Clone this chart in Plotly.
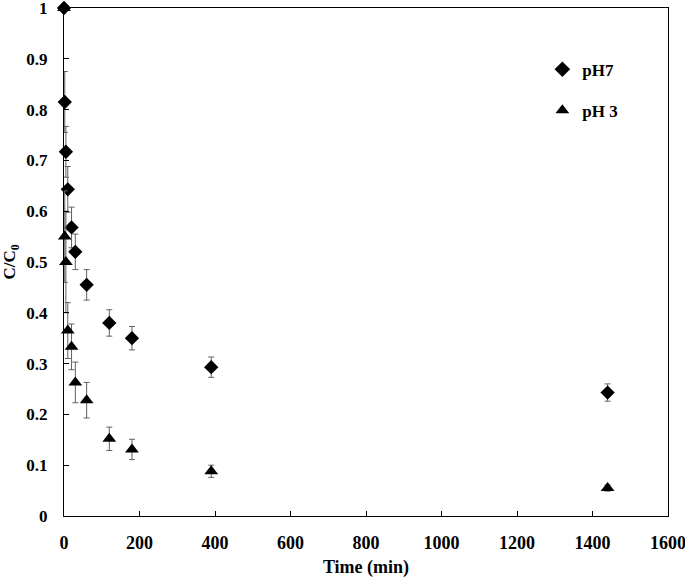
import plotly.graph_objects as go

time_min = [0, 2, 5, 10, 20, 30, 60, 120, 180, 390, 1440]
ph7 = [1.0, 0.815, 0.717, 0.643, 0.568, 0.52, 0.455, 0.38, 0.35, 0.293, 0.243]
ph7_err = [0.0, 0.06, 0.05, 0.045, 0.04, 0.035, 0.03, 0.026, 0.023, 0.02, 0.017]
ph3 = [1.0, 0.55, 0.50, 0.365, 0.333, 0.263, 0.228, 0.152, 0.131, 0.088, 0.055]
ph3_err = [0.0, 0.09, 0.1, 0.055, 0.045, 0.04, 0.035, 0.023, 0.02, 0.012, 0.006]

x_ticks = [0, 200, 400, 600, 800, 1000, 1200, 1400, 1600]
y_ticks = [0, 0.1, 0.2, 0.3, 0.4, 0.5, 0.6, 0.7, 0.8, 0.9, 1]
y_tick_labels = ["0", "0.1", "0.2", "0.3", "0.4", "0.5", "0.6", "0.7", "0.8", "0.9", "1"]

FONT = "Liberation Serif"
ERR_COLOR = "#606060"

fig = go.Figure()
fig.add_trace(go.Scatter(
    x=time_min, y=ph7, mode="markers", name="<b>pH7</b>", legendgroup="a",
    marker=dict(symbol="diamond", size=11, color="black"), cliponaxis=False,
    error_y=dict(type="data", array=ph7_err, color=ERR_COLOR, thickness=1, width=3),
))
fig.add_trace(go.Scatter(
    x=time_min, y=ph3, mode="markers", name="<b>pH 3</b>", legendgroup="b",
    marker=dict(symbol="triangle-up", size=12, color="black"), cliponaxis=False,
    error_y=dict(type="data", array=ph3_err, color=ERR_COLOR, thickness=1, width=3),
))

axis_common = dict(
    showline=True, linecolor="black", linewidth=1, mirror=True,
    ticks="inside", ticklen=5, tickcolor="black", tickwidth=1,
    showgrid=False, zeroline=False, automargin=False, ticklabeloverflow="allow",
)

fig.update_xaxes(
    range=[0, 1600], tickvals=x_ticks, ticktext=[f"<b>{v}</b>" for v in x_ticks],
    tickfont=dict(family=FONT, size=18, color="black"), ticklabelstandoff=10,
    title=dict(text="<b>Time (min)</b>", font=dict(family=FONT, size=18, color="black")),
    **axis_common,
)
fig.update_yaxes(
    range=[0, 1], tickvals=y_ticks, ticktext=[f"<b>{t}</b>" for t in y_tick_labels],
    tickfont=dict(family=FONT, size=17, color="black"), ticklabelstandoff=12,
    title=dict(text="<b>C/C<sub>0</sub></b>", font=dict(family=FONT, size=17, color="black")),
    **axis_common,
)

fig.update_layout(
    width=685, height=578,
    margin=dict(l=64, r=17, t=8, b=62),
    plot_bgcolor="white", paper_bgcolor="white",
    font=dict(family=FONT, color="black"),
    legend=dict(
        x=0.792, y=0.914, xanchor="left", yanchor="top",
        font=dict(family=FONT, size=17, color="black"),
        bgcolor="rgba(0,0,0,0)", tracegroupgap=16, itemsizing="constant",
    ),
)

fig.write_html(
    "out.html",
    config={"displayModeBar": False},
    post_script="document.body.style.margin='0';document.body.style.overflow='hidden';",
)
